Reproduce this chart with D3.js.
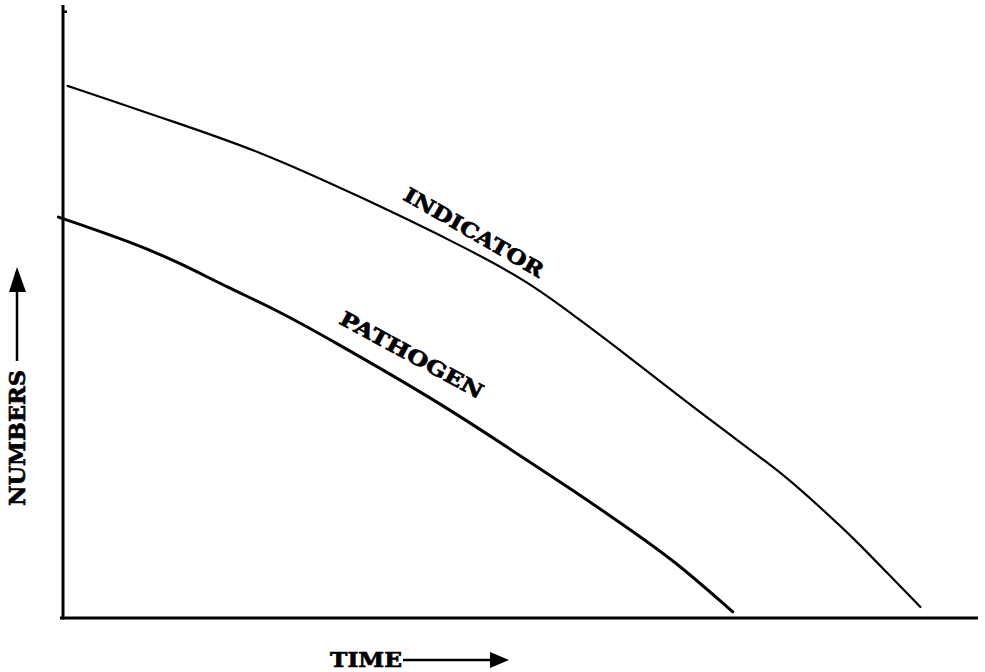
<!DOCTYPE html>
<html>
<head>
<meta charset="utf-8">
<script src="https://cdn.jsdelivr.net/npm/d3@7"></script>
<style>
  html, body { margin: 0; padding: 0; background: #fff; }
  svg { display: block; }
  .lbl { font-family: "DejaVu Serif", serif; font-weight: bold; fill: #000; stroke: #000; stroke-width: 0.7; }
</style>
</head>
<body>
<svg id="chart" width="985" height="672"></svg>
<script>
// Survival of indicator organisms vs. pathogens over time (relative units)
const indicatorTime    = [0.5, 5.1, 10.6, 21.5, 32.5, 42.3, 50.7, 56.5, 60.9, 67.8, 73.7, 79.1, 82.7, 86.3, 90.1, 93.7];
const indicatorNumbers = [86.8, 84.5, 81.7, 76.2, 68.7, 61.7, 55.1, 48.6, 43.7, 35.6, 29.0, 23.0, 18.1, 13.2, 7.3, 1.8];

const pathogenTime     = [-0.5, 7.7, 12.8, 17.9, 23.4, 28.9, 41.2, 48.5, 55.7, 61.6, 66.7, 73.2];
const pathogenNumbers  = [65.4, 61.2, 57.9, 54.0, 50.2, 45.7, 35.1, 27.9, 20.9, 14.8, 9.5, 1.0];

const seriesLabels = ["INDICATOR", "PATHOGEN"];
const xTitle = "TIME";
const yTitle = "NUMBERS";

const svg = d3.select("#chart");

const x = d3.scaleLinear().domain([0, 100]).range([63, 978]);
const y = d3.scaleLinear().domain([0, 100]).range([618, 5]);

// Axes: bare lines, no ticks
const xAxis = svg.append("g")
  .attr("transform", `translate(0,${y(0)})`)
  .call(d3.axisBottom(x).tickValues([]).tickSizeOuter(0));
xAxis.select(".domain").attr("stroke", "#000").attr("stroke-width", 3)
  .attr("d", `M${x(0) - 3},0H${x(100)}`);

const yAxis = svg.append("g")
  .attr("transform", `translate(${x(0)},0)`)
  .call(d3.axisLeft(y).tickValues([]).tickSizeOuter(0));
yAxis.select(".domain").attr("stroke", "#000").attr("stroke-width", 3)
  .attr("d", `M0,${y(0) + 1.5}V${y(100)}`);
// small mark near the top of the vertical axis
svg.append("line")
  .attr("x1", x(0)).attr("x2", x(0) + 4)
  .attr("y1", y(98.9)).attr("y2", y(98.9))
  .attr("stroke", "#000").attr("stroke-width", 2.5);

const line = d3.line()
  .x(d => x(d[0]))
  .y(d => y(d[1]))
  .curve(d3.curveBasis);

const indicator = d3.zip(indicatorTime, indicatorNumbers);
const pathogen = d3.zip(pathogenTime, pathogenNumbers);

svg.append("path")
  .datum(indicator)
  .attr("d", line)
  .attr("fill", "none")
  .attr("stroke", "#000")
  .attr("stroke-width", 2.2)
  .attr("stroke-linecap", "round");

svg.append("path")
  .datum(pathogen)
  .attr("d", line)
  .attr("fill", "none")
  .attr("stroke", "#000")
  .attr("stroke-width", 3)
  .attr("stroke-linecap", "round");

// Curve labels, set along the slope of each curve
svg.append("text")
  .attr("class", "lbl")
  .attr("font-size", 20)
  .attr("textLength", 158)
  .attr("lengthAdjust", "spacingAndGlyphs")
  .attr("transform", "translate(402,199) rotate(30)")
  .text(seriesLabels[0]);

svg.append("text")
  .attr("class", "lbl")
  .attr("font-size", 20)
  .attr("textLength", 160)
  .attr("lengthAdjust", "spacingAndGlyphs")
  .attr("transform", "translate(338,323) rotate(28.5)")
  .text(seriesLabels[1]);

// Axis titles with arrows
svg.append("text")
  .attr("class", "lbl")
  .attr("font-size", 21)
  .attr("x", 330).attr("y", 667)
  .attr("textLength", 72)
  .attr("lengthAdjust", "spacingAndGlyphs")
  .text(xTitle);
svg.append("line")
  .attr("x1", 403).attr("x2", 492)
  .attr("y1", 660).attr("y2", 660)
  .attr("stroke", "#000").attr("stroke-width", 2.5);
svg.append("path")
  .attr("d", "M509,660L490,652L490,668Z")
  .attr("fill", "#000");

svg.append("text")
  .attr("class", "lbl")
  .attr("font-size", 23)
  .attr("textLength", 136)
  .attr("lengthAdjust", "spacingAndGlyphs")
  .attr("transform", "translate(25,506) rotate(-90)")
  .text(yTitle);
svg.append("line")
  .attr("x1", 17).attr("x2", 17)
  .attr("y1", 361).attr("y2", 288)
  .attr("stroke", "#000").attr("stroke-width", 2.5);
svg.append("path")
  .attr("d", "M17,267L9,292L26,292Z")
  .attr("fill", "#000");
</script>
</body>
</html>
